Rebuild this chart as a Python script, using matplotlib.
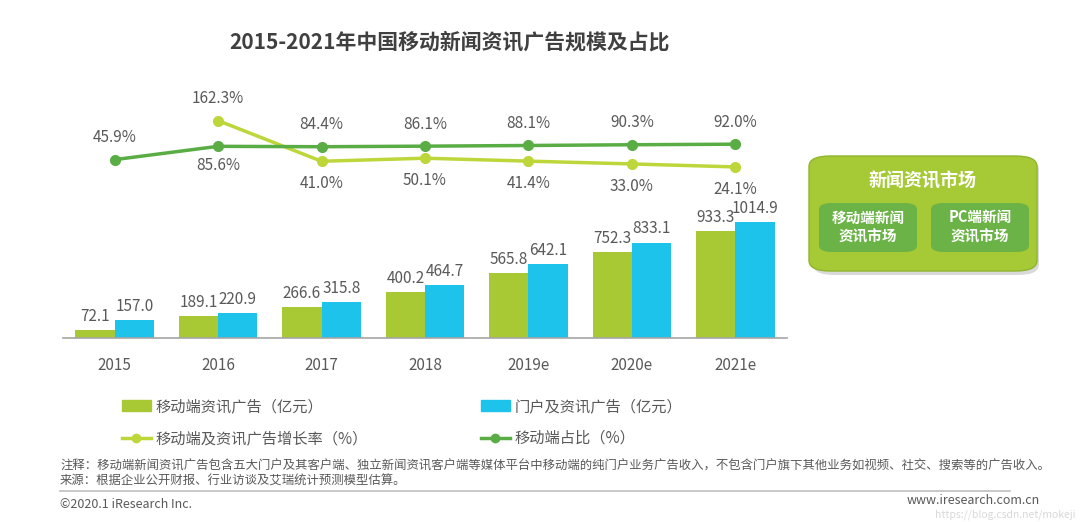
import matplotlib
matplotlib.use('Agg')
import matplotlib.pyplot as plt
from matplotlib.patches import FancyBboxPatch, Patch
from matplotlib.lines import Line2D

plt.rcParams['font.family'] = ['Noto Sans CJK SC', 'DejaVu Sans']

# data
years = ['2015', '2016', '2017', '2018', '2019e', '2020e', '2021e']
mobile_ad = [72.1, 189.1, 266.6, 400.2, 565.8, 752.3, 933.3]
portal_ad = [157.0, 220.9, 315.8, 464.7, 642.1, 833.1, 1014.9]
growth = [None, 162.3, 41.0, 50.1, 41.4, 33.0, 24.1]
share = [45.9, 85.6, 84.4, 86.1, 88.1, 90.3, 92.0]

GREEN_BAR = '#a9c934'
BLUE_BAR = '#1ec3ec'
LIGHT_LINE = '#bdd63a'
DARK_LINE = '#5aad45'
TXT = '#595959'

W, H = 1080, 522
fig = plt.figure(figsize=(W / 100, H / 100), dpi=100, facecolor='white')


def box(left, bottom_px, width, height):
    # pixel coords (top-left origin for bottom_px) -> figure fractions
    return [left / W, (H - bottom_px) / H, width / W, height / H]


x = list(range(len(years)))
bw = 0.38

# ---- bars ----
ax = fig.add_axes(box(63, 338, 724, 126))
ax.bar([i - bw / 2 for i in x], mobile_ad, bw, color=GREEN_BAR)
ax.bar([i + bw / 2 for i in x], portal_ad, bw, color=BLUE_BAR)
for i in x:
    ax.text(i - bw / 2, mobile_ad[i] + 45, f'{mobile_ad[i]:.1f}', ha='center',
            va='bottom', fontsize=11, color=TXT)
    ax.text(i + bw / 2, portal_ad[i] + 45, f'{portal_ad[i]:.1f}', ha='center',
            va='bottom', fontsize=11, color=TXT)
ax.set_xlim(-0.5, 6.5)
ax.set_ylim(0, 1100)
ax.set_xticks(x)
ax.set_xticklabels(years, fontsize=11, color=TXT)
ax.tick_params(axis='x', length=0, pad=14)
ax.set_yticks([])
for s in ['top', 'left', 'right']:
    ax.spines[s].set_visible(False)
ax.spines['bottom'].set_color('#a6a6a6')
ax.spines['bottom'].set_linewidth(1.2)

# ---- lines ----
lx = fig.add_axes(box(63, 175, 724, 67))
lx.set_xlim(-0.5, 6.5)
lx.set_ylim(0, 200)
lx.axis('off')
gx = [i for i in x if growth[i] is not None]
gy = [growth[i] for i in gx]
lx.plot(x, share, color=DARK_LINE, lw=2.5, marker='o', ms=7, zorder=3)
lx.plot(gx, gy, color=LIGHT_LINE, lw=2.5, marker='o', ms=7, zorder=2)

share_above = [True, False, True, True, True, True, True]
for i in x:
    if share_above[i]:
        lx.text(i, share[i] + 40, f'{share[i]:.1f}%', ha='center', va='bottom',
                fontsize=11, color=TXT)
    else:
        lx.text(i, share[i] - 32, f'{share[i]:.1f}%', ha='center', va='top',
                fontsize=11, color=TXT)
for i, v in zip(gx, gy):
    if i == 1:
        lx.text(i, v + 40, f'{v:.1f}%', ha='center', va='bottom',
                fontsize=11, color=TXT)
    else:
        lx.text(i, v - 42, f'{v:.1f}%', ha='center', va='top',
                fontsize=11, color=TXT)

# ---- title ----
fig.text(450 / W, 1 - 42 / H, '2015-2021年中国移动新闻资讯广告规模及占比',
         ha='center', va='center', fontsize=15, fontweight='bold', color='#404040')

# ---- legend ----
handles = [
    Patch(color=GREEN_BAR, label='移动端资讯广告（亿元）'),
    Line2D([], [], color=LIGHT_LINE, lw=2.5, marker='o', ms=6, label='移动端及资讯广告增长率（%）'),
    Patch(color=BLUE_BAR, label='门户及资讯广告（亿元）'),
    Line2D([], [], color=DARK_LINE, lw=2.5, marker='o', ms=6, label='移动端占比（%）'),
]
fig.legend(handles=handles, ncol=2, loc='upper left',
           bbox_to_anchor=(108 / W, 1 - 384 / H), frameon=False,
           fontsize=11, labelcolor=TXT, handlelength=1.9, handleheight=0.7,
           handletextpad=0.3, columnspacing=7.4, labelspacing=1.0)

# ---- right info box ----
fig.patches.append(FancyBboxPatch((813 / W, 1 - 275 / H), 226 / W, 116 / H,
                                  boxstyle='round,pad=0,rounding_size=0.02',
                                  transform=fig.transFigure, facecolor='#d9d9d9',
                                  edgecolor='none', zorder=1))
fig.patches.append(FancyBboxPatch((809 / W, 1 - 271 / H), 228 / W, 115 / H,
                                  boxstyle='round,pad=0,rounding_size=0.02',
                                  transform=fig.transFigure, facecolor='#a6c936',
                                  edgecolor='#8fb52c', lw=1, zorder=2))
fig.text(923 / W, 1 - 181 / H, '新闻资讯市场', ha='center', va='center',
         fontsize=13, fontweight='bold', color='white', zorder=5)
for bx, label in [(819, '移动端新闻\n资讯市场'), (931, 'PC端新闻\n资讯市场')]:
    fig.patches.append(FancyBboxPatch((bx / W, 1 - 252 / H), 98 / W, 49 / H,
                                      boxstyle='round,pad=0,rounding_size=0.012',
                                      transform=fig.transFigure, facecolor='#6bb346',
                                      edgecolor='none', zorder=3))
    fig.text((bx + 49) / W, 1 - 227 / H, label, ha='center', va='center',
             fontsize=10.5, fontweight='bold', color='white', linespacing=1.25, zorder=5)

# ---- notes ----
fig.text(60 / W, 1 - 466 / H,
         '注释：移动端新闻资讯广告包含五大门户及其客户端、独立新闻资讯客户端等媒体平台中移动端的纯门户业务广告收入，'
         '不包含门户旗下其他业务如视频、社交、搜索等的广告收入。',
         ha='left', va='center', fontsize=8.9, color=TXT)
fig.text(60 / W, 1 - 481 / H, '来源：根据企业公开财报、行业访谈及艾瑞统计预测模型估算。',
         ha='left', va='center', fontsize=8.9, color=TXT)
fig.add_artist(Line2D([60 / W, 1010 / W], [1 - 491 / H, 1 - 491 / H],
                      color='#bfbfbf', lw=1.2))
fig.text(60 / W, 1 - 505 / H, '©2020.1 iResearch Inc.', ha='left', va='center',
         fontsize=9, color=TXT)
fig.text(1040 / W, 1 - 501 / H, 'www.iresearch.com.cn', ha='right', va='center',
         fontsize=9, color=TXT)
fig.text(1075 / W, 1 - 515 / H, 'https://blog.csdn.net/mokeji', ha='right',
         va='center', fontsize=7.5, color='#c8c8c8', alpha=0.7)

fig.savefig('out.png', dpi=100, facecolor='white')
